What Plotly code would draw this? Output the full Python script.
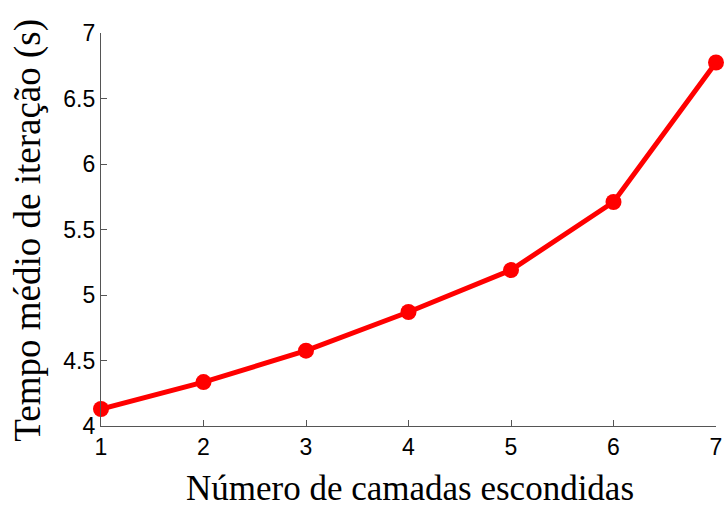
import plotly.graph_objects as go

camadas = [1, 2, 3, 4, 5, 6, 7]
tempo_medio = [4.13, 4.335, 4.575, 4.87, 5.19, 5.71, 6.775]
x_ticks = [1, 2, 3, 4, 5, 6, 7]
y_ticks = [4, 4.5, 5, 5.5, 6, 6.5, 7]
y_tick_labels = ["4", "4.5", "5", "5.5", "6", "6.5", "7"]

fig = go.Figure()
fig.add_trace(go.Scatter(
    x=camadas, y=tempo_medio, mode="lines+markers",
    line=dict(color="#ff0000", width=5),
    marker=dict(color="#ff0000", size=16),
    cliponaxis=False, showlegend=False,
))

axis_common = dict(
    showgrid=False, zeroline=False, showline=True, linecolor="#555555", linewidth=1.3,
    ticks="inside", ticklen=6, tickcolor="#555555", tickwidth=1.2, mirror=False,
    automargin=False,
    tickfont=dict(family="Liberation Sans, Arial, sans-serif", size=23, color="#000000"),
)

fig.update_layout(
    width=725, height=509,
    margin=dict(l=101, r=9, t=33, b=83),
    paper_bgcolor="white", plot_bgcolor="white",
    xaxis=dict(range=[1, 7], tickvals=x_ticks, ticktext=[str(v) for v in x_ticks], **axis_common),
    yaxis=dict(range=[4, 7], tickvals=y_ticks, ticktext=y_tick_labels, **axis_common),
    annotations=[
        dict(text="Número de camadas escondidas", xref="paper", yref="paper",
             x=0.502, y=-0.16, xanchor="center", yanchor="middle", showarrow=False,
             font=dict(family="Liberation Serif, serif", size=35, color="#000000")),
        dict(text="Tempo médio de iteração (s)", xref="paper", yref="paper",
             x=-0.118, y=0.498, xanchor="center", yanchor="middle", showarrow=False, textangle=-90,
             font=dict(family="Liberation Serif, serif", size=37, color="#000000")),
    ],
)

fig.write_html("out.html", config={"displayModeBar": False},
               post_script="document.body.style.margin='0';document.body.style.overflow='hidden';")
